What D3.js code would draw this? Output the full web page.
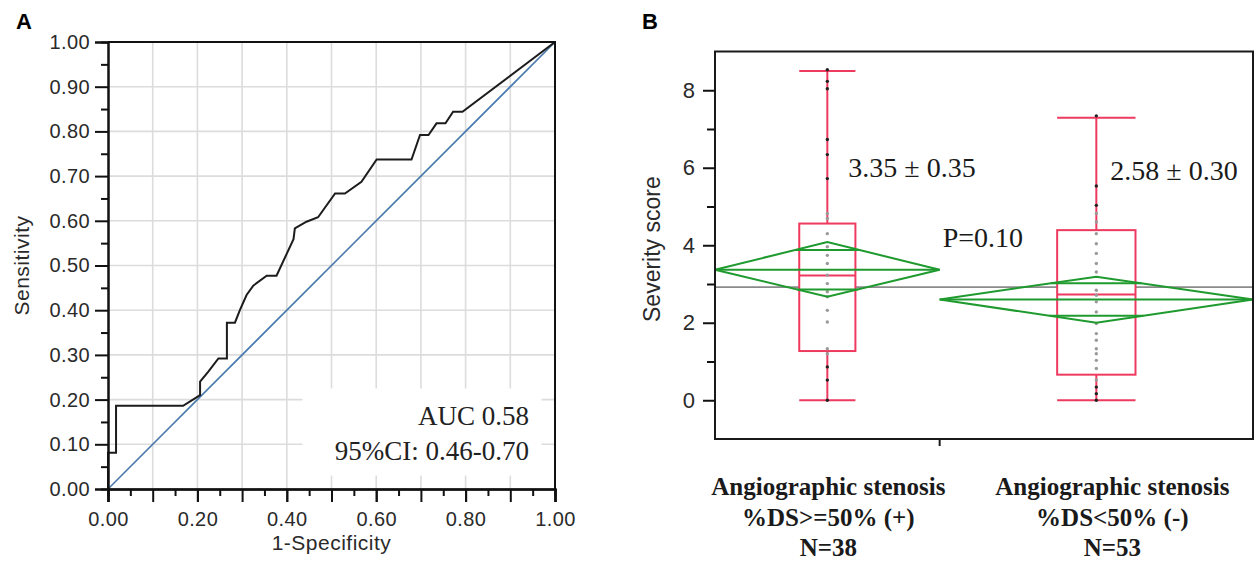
<!DOCTYPE html>
<html>
<head>
<meta charset="utf-8">
<title>ROC curve and severity score</title>
<style>
body { margin: 0; background: #fff; }
svg text { font-family: "Liberation Sans", Arial, sans-serif; }
</style>
</head>
<body>
<svg id="chart" width="1255" height="565"></svg>
<script src="https://cdn.jsdelivr.net/npm/d3@7/dist/d3.min.js"></script>
<script>
//---------------------------- DATA ----------------------------//
// panel A: ROC curve
var rocFpr = [0, 0, 0.018, 0.018, 0.168, 0.206, 0.206, 0.224, 0.247, 0.266, 0.266, 0.284, 0.295, 0.31,
              0.325, 0.355, 0.377, 0.415, 0.418, 0.444, 0.470, 0.508, 0.530, 0.567, 0.601, 0.679,
              0.698, 0.717, 0.735, 0.755, 0.772, 0.793, 1];
var rocTpr = [0, 0.081, 0.081, 0.186, 0.186, 0.21, 0.24, 0.262, 0.292, 0.292, 0.372, 0.372, 0.40, 0.434,
              0.455, 0.477, 0.477, 0.559, 0.583, 0.598, 0.608, 0.661, 0.661, 0.687, 0.737, 0.737,
              0.792, 0.792, 0.818, 0.818, 0.844, 0.844, 1];
var aucLines = ["AUC 0.58", "95%CI: 0.46-0.70"];
var rocMajor = d3.range(0, 1.001, 0.1);
var rocMinor = d3.range(0.05, 1, 0.1);
var rocLabelTicks = [0, 0.2, 0.4, 0.6, 0.8, 1];

// panel B: severity score by group
var groupN = [38, 53];
var groupLabels = [["Angiographic stenosis", "%DS>=50% (+)", "N=38"],
                   ["Angiographic stenosis", "%DS<50% (-)", "N=53"]];
var groupMean = [3.37, 2.60];
var ciLow = [2.67, 2.00];
var ciHigh = [4.08, 3.19];
var overlapLow = [2.86, 2.18];
var overlapHigh = [3.88, 3.02];
var grandMean = 2.92;
var boxQ1 = [1.27, 0.66];
var boxMedian = [3.22, 2.73];
var boxQ3 = [4.56, 4.39];
var whiskerLow = [0, 0];
var whiskerHigh = [8.5, 7.29];
var groupPoints = [
  [8.53, 8.23, 8.04, 6.73, 6.34, 5.72, 4.82, 4.69, 4.30, 3.96, 3.74, 3.53, 3.23, 3.01, 2.80, 2.67,
   2.32, 2.02, 1.33, 1.20, 0.86, 0.52, 0],
  [7.34, 5.53, 5.03, 4.82, 4.60, 4.30, 4.04, 3.79, 3.53, 3.31, 2.84, 2.71, 2.54, 2.28, 1.98, 1.72,
   1.55, 1.33, 1.20, 1.03, 0.82, 0.52, 0.34, 0.17, 0]
];
var meanText = ["3.35 \u00b1 0.35", "2.58 \u00b1 0.30"];
var pText = "P=0.10";
var severityMajor = [0, 2, 4, 6, 8];
var severityMinor = [1, 3, 5, 7];

//---------------------------- SVG -----------------------------//
var svg = d3.select("#chart");
var serif = '"Liberation Serif", "Times New Roman", serif';

//-------------------------- PANEL A ---------------------------//
var xA = d3.scaleLinear().domain([0, 1]).range([108, 555]);
var yA = d3.scaleLinear().domain([0, 1]).range([489, 42]);

var gA = svg.append("g");

// grid
gA.selectAll(".vgrid").data(rocMajor.slice(1, -1)).enter().append("line")
    .attr("x1", d => xA(d)).attr("x2", d => xA(d))
    .attr("y1", yA(0)).attr("y2", yA(1))
    .attr("stroke", "#dcdcdc").attr("stroke-width", 1.6);
gA.selectAll(".hgrid").data(rocMajor.slice(1, -1)).enter().append("line")
    .attr("y1", d => yA(d)).attr("y2", d => yA(d))
    .attr("x1", xA(0)).attr("x2", xA(1))
    .attr("stroke", "#dcdcdc").attr("stroke-width", 1.6);

// white box behind the AUC text
gA.append("rect")
    .attr("x", xA(0.435)).attr("y", yA(0.225))
    .attr("width", xA(0.97) - xA(0.435)).attr("height", yA(0.03) - yA(0.225))
    .attr("fill", "#fff");

// chance line and ROC curve
gA.append("line")
    .attr("x1", xA(0)).attr("y1", yA(0)).attr("x2", xA(1)).attr("y2", yA(1))
    .attr("stroke", "#4a79ad").attr("stroke-width", 1.6);

var rocLine = d3.line()
    .x(function (d, i) { return xA(rocFpr[i]); })
    .y(function (d, i) { return yA(rocTpr[i]); });
gA.append("path")
    .attr("d", rocLine(rocFpr))
    .attr("fill", "none").attr("stroke", "#1c1c1c").attr("stroke-width", 2);

// frame
gA.append("path")
    .attr("d", "M" + xA(0) + "," + yA(1) + "H" + xA(1) + "V" + yA(0))
    .attr("fill", "none").attr("stroke", "#111").attr("stroke-width", 2);

// axes
function styleAxis(sel) {
    sel.select(".domain").attr("stroke", "#111").attr("stroke-width", 2);
    sel.selectAll(".tick line").attr("stroke", "#111").attr("stroke-width", 2);
    sel.selectAll("text").style("font-size", "20px").attr("fill", "#2a2a2a")
        .style("letter-spacing", "0.4px");
}
gA.append("g").attr("transform", "translate(" + xA(0) + ",0)")
    .call(d3.axisLeft(yA).tickValues(rocMinor).tickSize(7).tickFormat(""))
    .call(styleAxis);
gA.append("g").attr("transform", "translate(" + xA(0) + ",0)")
    .call(d3.axisLeft(yA).tickValues(rocMajor).tickSize(13).tickPadding(5).tickFormat(d3.format(".2f")))
    .call(styleAxis);
gA.append("g").attr("transform", "translate(0," + yA(0) + ")")
    .call(d3.axisBottom(xA).tickValues(rocMinor).tickSize(7).tickFormat(""))
    .call(styleAxis);
gA.append("g").attr("transform", "translate(0," + yA(0) + ")")
    .call(d3.axisBottom(xA).tickValues(rocMajor).tickSize(13).tickFormat(""))
    .call(styleAxis);
gA.append("g").attr("transform", "translate(0," + yA(0) + ")")
    .call(d3.axisBottom(xA).tickValues(rocLabelTicks).tickSize(13).tickPadding(10).tickFormat(d3.format(".2f")))
    .call(styleAxis);

// titles
gA.append("text")
    .attr("transform", "translate(29," + yA(0.5) + ") rotate(-90)")
    .attr("text-anchor", "middle")
    .style("font-size", "21px").style("letter-spacing", "0.5px").attr("fill", "#2a2a2a")
    .text("Sensitivity");
gA.append("text")
    .attr("x", xA(0.5)).attr("y", 550)
    .attr("text-anchor", "middle")
    .style("font-size", "21px").style("letter-spacing", "0.5px").attr("fill", "#2a2a2a")
    .text("1-Specificity");

gA.selectAll(".auc").data(aucLines).enter().append("text")
    .attr("x", xA(0.942)).attr("y", function (d, i) { return yA(0.144) + i * 35; })
    .attr("text-anchor", "end")
    .style("font-family", serif).style("font-size", "27px").attr("fill", "#222")
    .text(d => d);

svg.append("text").attr("x", 16).attr("y", 29)
    .style("font-size", "22px").style("font-weight", "bold").text("A");

//-------------------------- PANEL B ---------------------------//
var totalN = d3.sum(groupN);
var xB = d3.scaleLinear().domain([0, totalN]).range([715, 1253]);
var yB = d3.scaleLinear().domain([-1, 9]).range([439, 51.5]);
var gB = svg.append("g");

var starts = [0, groupN[0]];
var spans = groupN.map(function (n, i) {
    var x0 = xB(starts[i]), x1 = xB(starts[i] + n);
    return {x0: x0, x1: x1, cx: (x0 + x1) / 2, w: x1 - x0};
});

// grand mean
gB.append("line")
    .attr("x1", xB(0)).attr("x2", xB(totalN))
    .attr("y1", yB(grandMean)).attr("y2", yB(grandMean))
    .attr("stroke", "#8a8a8a").attr("stroke-width", 1.6);

var red = "#ee3a5e";
var green = "#1f9a2e";

spans.forEach(function (s, i) {
    var bw = s.w * 0.25;
    var bx = s.cx - bw / 2;
    // whisker line
    gB.append("line")
        .attr("x1", s.cx).attr("x2", s.cx)
        .attr("y1", yB(whiskerLow[i])).attr("y2", yB(whiskerHigh[i]))
        .attr("stroke", red).attr("stroke-width", 2);
    // caps
    [whiskerLow[i], whiskerHigh[i]].forEach(function (v) {
        gB.append("line")
            .attr("x1", bx).attr("x2", bx + bw)
            .attr("y1", yB(v)).attr("y2", yB(v))
            .attr("stroke", red).attr("stroke-width", 2);
    });
    // box
    gB.append("rect")
        .attr("x", bx).attr("width", bw)
        .attr("y", yB(boxQ3[i])).attr("height", yB(boxQ1[i]) - yB(boxQ3[i]))
        .attr("fill", "#fff").attr("stroke", red).attr("stroke-width", 2);
    gB.append("line")
        .attr("x1", bx).attr("x2", bx + bw)
        .attr("y1", yB(boxMedian[i])).attr("y2", yB(boxMedian[i]))
        .attr("stroke", red).attr("stroke-width", 2);

    // raw points
    gB.selectAll(".pt" + i).data(groupPoints[i]).enter().append("circle")
        .attr("cx", s.cx).attr("cy", d => yB(d)).attr("r", 1.7)
        .attr("fill", d => (d > boxQ3[i] + 0.5 || d < boxQ1[i] - 0.2) ? "#222" : "#9a9a9a");

    // mean diamond
    var m = groupMean[i];
    var diamond = [[s.x0, m], [s.cx, ciHigh[i]], [s.x1, m], [s.cx, ciLow[i]]];
    gB.append("path")
        .attr("d", d3.line().x(d => d[0]).y(d => yB(d[1]))(diamond) + "Z")
        .attr("fill", "none").attr("stroke", green).attr("stroke-width", 2);
    gB.append("line")
        .attr("x1", s.x0).attr("x2", s.x1).attr("y1", yB(m)).attr("y2", yB(m))
        .attr("stroke", green).attr("stroke-width", 2);
    [[overlapHigh[i], ciHigh[i]], [overlapLow[i], ciLow[i]]].forEach(function (o) {
        var half = (s.w / 2) * (1 - (o[0] - m) / (o[1] - m));
        gB.append("line")
            .attr("x1", s.cx - half).attr("x2", s.cx + half)
            .attr("y1", yB(o[0])).attr("y2", yB(o[0]))
            .attr("stroke", green).attr("stroke-width", 2);
    });
});

// frame
gB.append("rect")
    .attr("x", xB(0)).attr("y", yB(9))
    .attr("width", xB(totalN) - xB(0)).attr("height", yB(-1) - yB(9))
    .attr("fill", "none").attr("stroke", "#1a1a1a").attr("stroke-width", 2);

// y axis
gB.append("g").attr("transform", "translate(" + xB(0) + ",0)")
    .call(d3.axisLeft(yB).tickValues(severityMinor).tickSize(8).tickFormat(""))
    .call(styleAxis);
gB.append("g").attr("transform", "translate(" + xB(0) + ",0)")
    .call(d3.axisLeft(yB).tickValues(severityMajor).tickSize(12).tickPadding(8))
    .call(function (sel) {
        styleAxis(sel);
        sel.selectAll("text").style("font-size", "22px").style("letter-spacing", "0px");
    });
gB.selectAll(".domain").remove();

// divider tick on x axis
gB.append("line")
    .attr("x1", xB(groupN[0])).attr("x2", xB(groupN[0]))
    .attr("y1", yB(-1)).attr("y2", yB(-1) + 7)
    .attr("stroke", "#1a1a1a").attr("stroke-width", 2);

gB.append("text")
    .attr("transform", "translate(660," + yB(3.9) + ") rotate(-90)")
    .attr("text-anchor", "middle")
    .style("font-size", "23px").attr("fill", "#2a2a2a")
    .text("Severity score");

// category labels
var labelShift = [1, 16];
spans.forEach(function (s, i) {
    gB.append("text")
        .attr("x", s.cx + labelShift[i]).attr("text-anchor", "middle")
        .style("font-family", serif).style("font-size", "25px").style("font-weight", "bold")
        .attr("fill", "#1a1a1a")
        .selectAll("tspan").data(groupLabels[i]).enter().append("tspan")
        .attr("x", s.cx + labelShift[i])
        .attr("y", function (d, j) { return 495 + j * 30.5; })
        .text(d => d);
});

// mean texts and p value
var meanAt = [5.75, 5.68];
spans.forEach(function (s, i) {
    gB.append("text")
        .attr("x", s.cx + [21, 14][i]).attr("y", yB(meanAt[i]))
        .style("font-family", serif).style("font-size", "28px").attr("fill", "#1a1a1a")
        .text(meanText[i]);
});
gB.append("text")
    .attr("x", xB(groupN[0]) + 3).attr("y", yB(3.95))
    .style("font-family", serif).style("font-size", "28px").attr("fill", "#1a1a1a")
    .text(pText);

svg.append("text").attr("x", 642).attr("y", 29)
    .style("font-size", "22px").style("font-weight", "bold").text("B");
</script>
</body>
</html>
